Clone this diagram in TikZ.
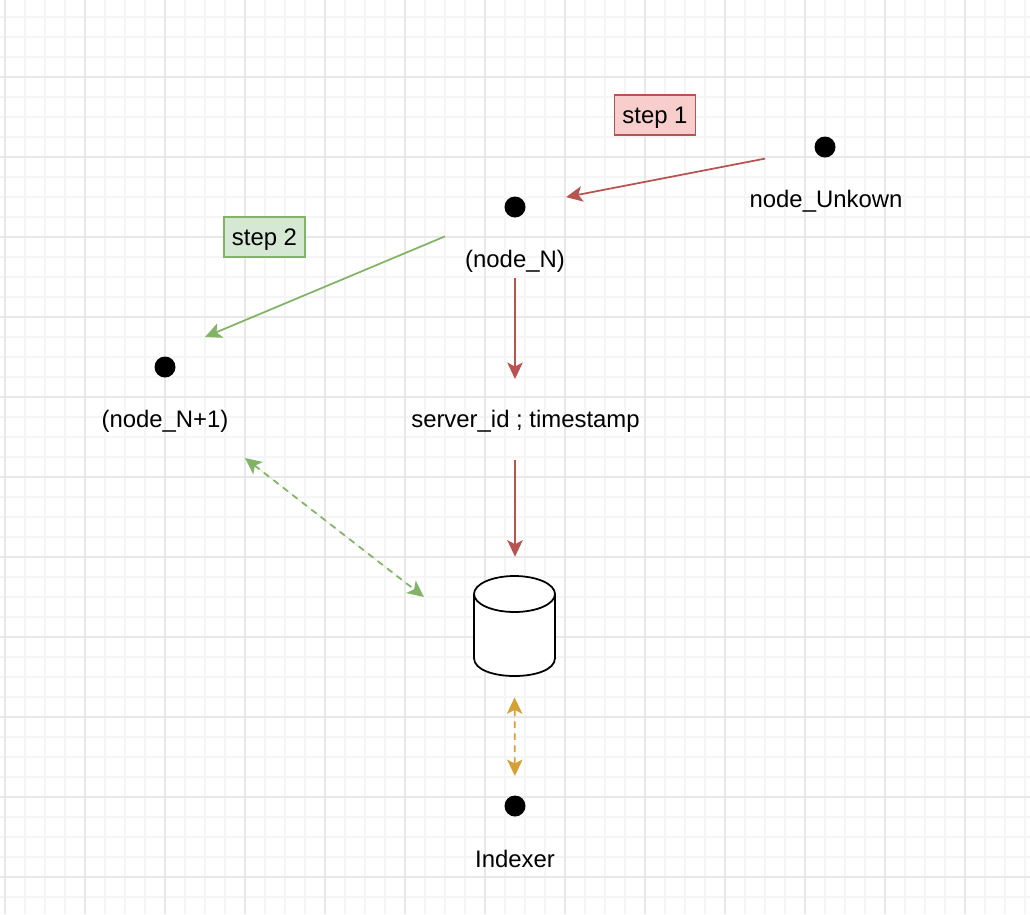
\documentclass[tikz,border=0pt]{standalone}
\usepackage{fontspec}
\setmainfont{Liberation Sans}
\usetikzlibrary{arrows.meta}
\definecolor{redline}{HTML}{B85450}
\definecolor{redfill}{HTML}{F8CECC}
\definecolor{greenline}{HTML}{82B366}
\definecolor{greenfill}{HTML}{D5E8D4}
\definecolor{orangeline}{HTML}{D6A035}
\tikzset{
  dot/.style={circle,fill=black,inner sep=0pt,minimum size=0.42cm},
  lbl/.style={inner sep=0pt,font=\fontsize{13.6pt}{16pt}\selectfont},
  stepbox/.style={draw,line width=0.9pt,minimum width=1.62cm,minimum height=0.8cm,inner sep=0pt,text depth=0pt,font=\fontsize{13.6pt}{16pt}\selectfont},
  tip/.style={-{Stealth[length=0.33cm,width=0.31cm,inset=0.08cm]}},
  twotip/.style={{Stealth[length=0.33cm,width=0.31cm,inset=0.08cm]}-{Stealth[length=0.33cm,width=0.31cm,inset=0.08cm]}},
  redarr/.style={tip,draw=redline,fill=redline,line width=1pt},
  greenarr/.style={tip,draw=greenline,fill=greenline,line width=1pt},
  dasharr/.style={twotip,line width=1pt,dash pattern=on 0.13cm off 0.11cm}
}
\begin{document}
\begin{tikzpicture}[x=0.02cm,y=-0.02cm]
            \useasboundingbox (0,0) rectangle (1030,914);
            % grid paper
            \foreach \gx in {5,25,...,1025} \draw [line width=0.6pt,black!4] (\gx,0) -- (\gx,914);
            \foreach \gy in {17,37,...,914} \draw [line width=0.6pt,black!4] (0,\gy) -- (1030,\gy);
            \foreach \gx in {5,85,...,1025} \draw [line width=0.6pt,black!9] (\gx,0) -- (\gx,914);
            \foreach \gy in {77,157,...,914} \draw [line width=0.6pt,black!9] (0,\gy) -- (1030,\gy);
            % nodes
            \node [dot] (unk) at (825,147) {};
            \node [lbl] (unklbl) at (826,201) {node\_Unkown};
            \node [dot] (nodeN) at (515,207) {};
            \node [lbl] (nodeNlbl) at (515,261) {(node\_N)};
            \node [dot] (next) at (165,367) {};
            \node [lbl] (nextlbl) at (165,421) {(node\_N+1)};
            \node [lbl] (srv) at (525.5,421) {server\_id ; timestamp};
            \node [dot] (idx) at (515,806) {};
            \node [lbl] (idxlbl) at (515,859) {Indexer};
            \node [stepbox,draw=redline,fill=redfill] (step1) at (655,115) {step 1};
            \node [stepbox,draw=greenline,fill=greenfill] (step2) at (264.5,237) {step 2};
            % database
            \node [minimum width=1.62cm,minimum height=2.02cm,inner sep=0pt] (db) at (514.5,626.5) {};
            \draw [line width=1pt,fill=white] (474,594) -- (474,658) .. controls (474,682) and (555,682) .. (555,658) -- (555,594);
            \draw [line width=1pt,fill=white] (514.5,594) ellipse [x radius=0.81cm,y radius=0.36cm];
            % connectors
            \coordinate (s2end) at (205,337);
            \coordinate (g1) at (245,458);
            \coordinate (g2) at (424,597);
            \draw [redarr,shorten <=1.22cm,shorten >=1.04cm] (unk.center) -- (nodeN.center);
            \draw [greenarr,shorten <=1.52cm] (nodeN.center) -- (s2end);
            \draw [redarr,shorten <=1.42cm,shorten >=0.84cm] (nodeN.center) -- (nodeN.center |- srv.center);
            \draw [redarr,shorten <=0.78cm,shorten >=0.38cm] (nodeN.center |- srv.center) -- (nodeN.center |- db.north);
            \draw [dasharr,draw=greenline,fill=greenline] (g1) -- (g2);
            \draw [dasharr,draw=orangeline,fill=orangeline,shorten <=0.4cm,shorten >=0.6cm] (db.south) -- (idx.center);
        \end{tikzpicture}
\end{document}
